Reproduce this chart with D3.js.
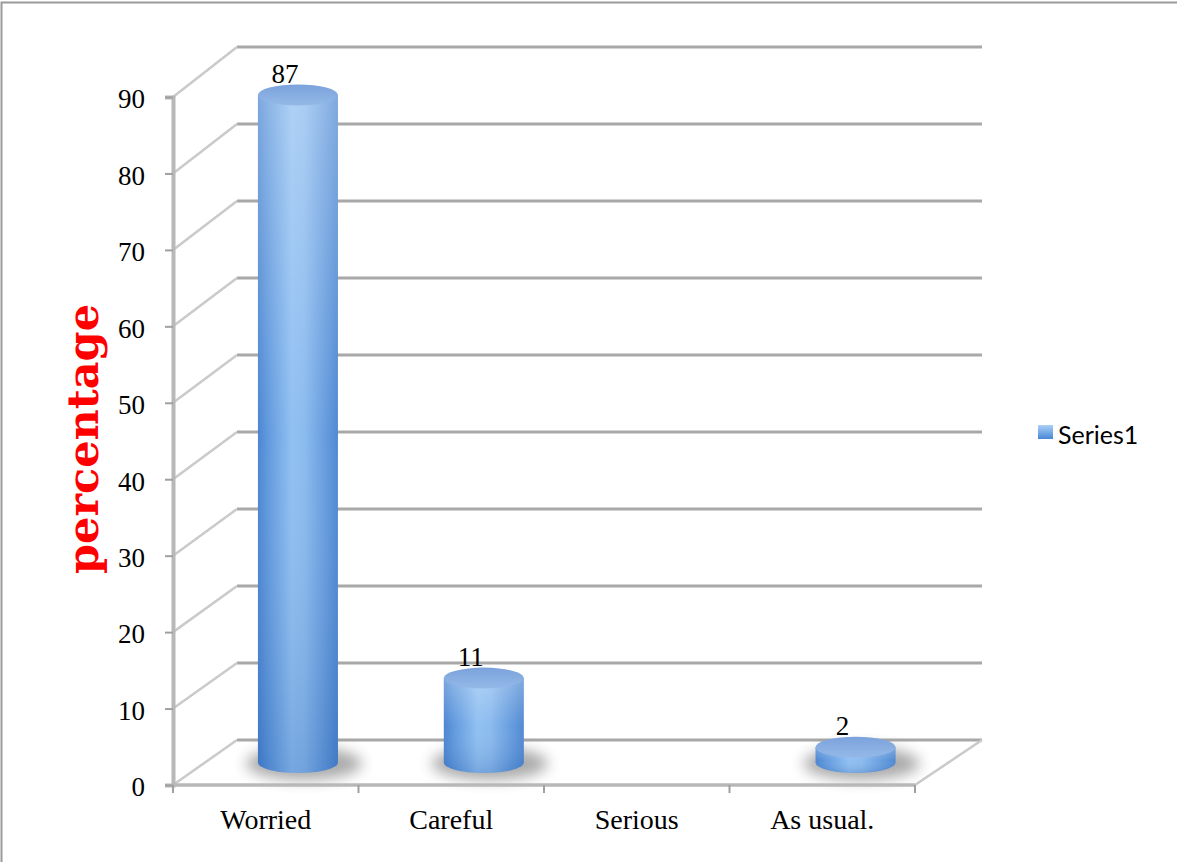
<!DOCTYPE html>
<html>
<head>
<meta charset="utf-8">
<script src="https://cdn.jsdelivr.net/npm/d3@7"></script>
<style>
  html, body { margin: 0; padding: 0; background: #ffffff; }
  svg { display: block; }
</style>
</head>
<body>
<script>
// Chart data
const categories = ["Worried", "Careful", "Serious", "As usual."];
const values = [87, 11, null, 2];
const yTicks = [0, 10, 20, 30, 40, 50, 60, 70, 80, 90];
const seriesName = "Series1";
const axisTitle = "percentage";

const W = 1177, H = 862;
const svg = d3.select("body").append("svg").attr("width", W).attr("height", H);
const defs = svg.append("defs");

// Outer frame (only top and left edges fall inside the canvas)
svg.append("rect")
  .attr("x", 1.5).attr("y", 2.5).attr("width", W + 10).attr("height", H + 10)
  .attr("fill", "none").attr("stroke", "#9a9a9a").attr("stroke-width", 2);

// Front plane and back wall scales (3D perspective box)
const xFront = d3.scaleBand().domain(categories).range([173, 915]).padding(0);
const xBack = d3.scaleBand().domain(categories).range([237, 982]).padding(0);
const yFront = d3.scaleLinear().domain([0, 90]).range([785, 97]);
const yBack = d3.scaleLinear().domain([0, 90]).range([740, 47]);

const gridColor = "#a8a8a8";
const sideColor = "#cacaca";

// Back wall gridlines
svg.append("g").selectAll("line").data(yTicks).join("line")
  .attr("x1", xBack.range()[0]).attr("x2", xBack.range()[1])
  .attr("y1", d => yBack(d)).attr("y2", d => yBack(d))
  .attr("stroke", gridColor).attr("stroke-width", 3);

// Side wall diagonals
svg.append("g").selectAll("line").data(yTicks).join("line")
  .attr("x1", xFront.range()[0]).attr("y1", d => yFront(d))
  .attr("x2", xBack.range()[0]).attr("y2", d => yBack(d))
  .attr("stroke", sideColor).attr("stroke-width", 2.5);

// Floor right edge
svg.append("line")
  .attr("x1", xFront.range()[1]).attr("y1", yFront(0))
  .attr("x2", xBack.range()[1]).attr("y2", yBack(0))
  .attr("stroke", sideColor).attr("stroke-width", 2.5);

// Gradients for the cylinders
const bodyGrad = defs.append("linearGradient").attr("id", "cylBody")
  .attr("x1", "0").attr("x2", "1").attr("y1", "0").attr("y2", "0");
[["0%", "#4581d0"], ["12%", "#5a95dc"], ["42%", "#8cbdf1"], ["58%", "#87b8ee"], ["88%", "#5b94da"], ["100%", "#4a84d0"]]
  .forEach(([o, c]) => bodyGrad.append("stop").attr("offset", o).attr("stop-color", c));

const shadeGrad = defs.append("linearGradient").attr("id", "cylShade")
  .attr("x1", "0").attr("x2", "0").attr("y1", "0").attr("y2", "1");
shadeGrad.append("stop").attr("offset", "0%").attr("stop-color", "#ffffff").attr("stop-opacity", 0.3);
shadeGrad.append("stop").attr("offset", "50%").attr("stop-color", "#ffffff").attr("stop-opacity", 0.04);
shadeGrad.append("stop").attr("offset", "100%").attr("stop-color", "#10408a").attr("stop-opacity", 0.18);

const topGrad = defs.append("linearGradient").attr("id", "cylTop")
  .attr("x1", "0").attr("x2", "0").attr("y1", "0").attr("y2", "1");
topGrad.append("stop").attr("offset", "0%").attr("stop-color", "#7ba2db");
topGrad.append("stop").attr("offset", "100%").attr("stop-color", "#94b9e8");

const legendGrad = defs.append("linearGradient").attr("id", "legendFill")
  .attr("x1", "0").attr("x2", "0").attr("y1", "0").attr("y2", "1");
legendGrad.append("stop").attr("offset", "0%").attr("stop-color", "#acd0f6");
legendGrad.append("stop").attr("offset", "100%").attr("stop-color", "#4787d6");

const blur = defs.append("filter").attr("id", "softShadow")
  .attr("x", "-50%").attr("y", "-100%").attr("width", "200%").attr("height", "300%");
blur.append("feGaussianBlur").attr("stdDeviation", 7);

// Cylinders sit halfway between the front plane and the back wall
const rx = 40, ry = 10.5;
const cx = c => (xFront(c) + xFront.bandwidth() / 2 + xBack(c) + xBack.bandwidth() / 2) / 2;
const yMid = v => (yFront(v) + yBack(v)) / 2;

const bars = categories.map((c, i) => ({ c, v: values[i] })).filter(d => d.v != null);

const barG = svg.append("g").selectAll("g").data(bars).join("g");

// floor shadow
barG.append("ellipse")
  .attr("cx", d => cx(d.c) + 6).attr("cy", yMid(0) + 1)
  .attr("rx", rx + 18).attr("ry", ry + 6)
  .attr("fill", "#444").attr("opacity", 0.45)
  .attr("filter", "url(#softShadow)");

// bottom cap
barG.append("ellipse")
  .attr("cx", d => cx(d.c)).attr("cy", yMid(0))
  .attr("rx", rx).attr("ry", ry)
  .attr("fill", "url(#cylBody)");

// side of cylinder
barG.append("rect")
  .attr("x", d => cx(d.c) - rx).attr("width", rx * 2)
  .attr("y", d => yMid(d.v)).attr("height", d => yMid(0) - yMid(d.v))
  .attr("fill", "url(#cylBody)");

barG.append("path")
  .attr("d", d => {
    const x0 = cx(d.c) - rx, x1 = cx(d.c) + rx, yt = yMid(d.v), yb = yMid(0);
    return `M${x0},${yt} L${x1},${yt} L${x1},${yb} A${rx},${ry} 0 0 1 ${x0},${yb} Z`;
  })
  .attr("fill", "url(#cylShade)");

// top cap
barG.append("ellipse")
  .attr("cx", d => cx(d.c)).attr("cy", d => yMid(d.v))
  .attr("rx", rx).attr("ry", ry)
  .attr("fill", "url(#cylTop)");

// value labels
const serif = "'Liberation Serif', 'Times New Roman', serif";
barG.append("text")
  .attr("x", d => cx(d.c) - 13).attr("y", d => yMid(d.v) - 12)
  .attr("text-anchor", "middle")
  .attr("font-family", serif).attr("font-size", 27).attr("fill", "#000")
  .text(d => d.v);

// Front value axis
const yAxis = d3.axisLeft(yFront).tickValues(yTicks).tickSize(8).tickPadding(20);
const yAxisG = svg.append("g").attr("transform", `translate(${xFront.range()[0]},0)`).call(yAxis);
yAxisG.select(".domain").attr("stroke", "#b8b8b8").attr("stroke-width", 4);
yAxisG.selectAll(".tick line").attr("stroke", "#a0a0a0").attr("stroke-width", 2);
yAxisG.selectAll(".tick text")
  .attr("font-family", serif).attr("font-size", 27).attr("fill", "#000")
  .attr("dy", "0.4em");

// Front category axis
const xAxis = d3.axisBottom(xFront).tickSize(0).tickPadding(28);
const xAxisG = svg.append("g").attr("transform", `translate(0,${yFront(0)})`).call(xAxis);
xAxisG.select(".domain").remove();
xAxisG.selectAll(".tick text")
  .attr("font-family", serif).attr("font-size", 28).attr("fill", "#000")
  .attr("dy", "0.58em");

svg.append("line")
  .attr("x1", xFront.range()[0]).attr("x2", xFront.range()[1])
  .attr("y1", yFront(0)).attr("y2", yFront(0))
  .attr("stroke", "#b8b8b8").attr("stroke-width", 3.5);

const boundaries = categories.map(c => xFront(c)).concat([xFront.range()[1]]);
svg.append("g").selectAll("line").data(boundaries).join("line")
  .attr("x1", d => d).attr("x2", d => d)
  .attr("y1", yFront(0)).attr("y2", yFront(0) + 8)
  .attr("stroke", "#a0a0a0").attr("stroke-width", 2);

// Axis title
svg.append("text")
  .attr("transform", "translate(98,439) rotate(-90)")
  .attr("text-anchor", "middle")
  .attr("font-family", "'DejaVu Serif', serif").attr("font-weight", "bold")
  .attr("font-size", 43).attr("fill", "#ff0000")
  .text(axisTitle);

// Legend
svg.append("rect")
  .attr("x", 1038).attr("y", 425).attr("width", 15).attr("height", 14)
  .attr("fill", "url(#legendFill)");
svg.append("text")
  .attr("x", 1058).attr("y", 444)
  .attr("font-family", "Lato, 'Open Sans', sans-serif").attr("font-size", 25).attr("fill", "#000")
  .text(seriesName);
</script>
</body>
</html>
